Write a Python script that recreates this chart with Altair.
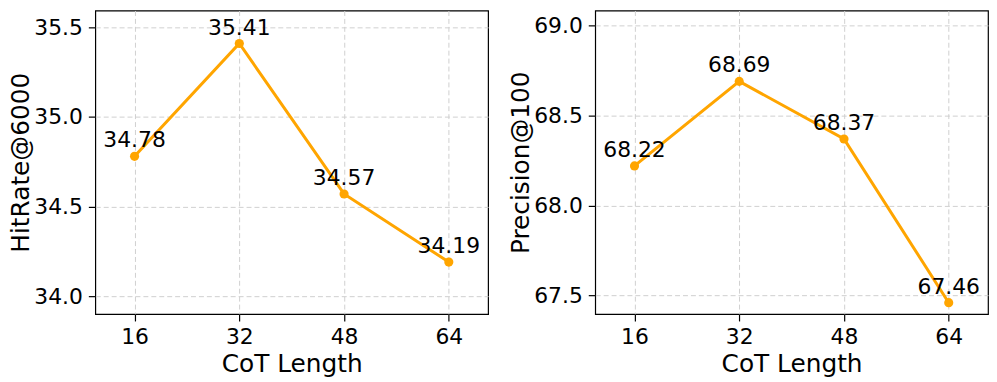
import altair as alt
import pandas as pd

cot_length = [16, 32, 48, 64]
hitrate = [34.78, 35.41, 34.57, 34.19]
precision = [68.22, 68.69, 68.37, 67.46]

x_ticks = [16, 32, 48, 64]
hit_ticks = [34.0, 34.5, 35.0, 35.5]
prec_ticks = [67.5, 68.0, 68.5, 69.0]

FONT = "DejaVu Sans"
ORANGE = "#FFA500"


def panel(values, ytitle, ydomain, yticks):
    df = pd.DataFrame({"x": cot_length, "y": values})
    base = alt.Chart(df)
    xenc = alt.X(
        "x:Q",
        scale=alt.Scale(domain=[10, 70], nice=False, zero=False),
        axis=alt.Axis(values=x_ticks, title="CoT Length", format="d"),
    )
    yenc = alt.Y(
        "y:Q",
        scale=alt.Scale(domain=ydomain, nice=False, zero=False),
        axis=alt.Axis(values=yticks, title=ytitle, format=".1f"),
    )
    line = base.mark_line(color=ORANGE, strokeWidth=3).encode(x=xenc, y=yenc)
    pts = base.mark_circle(color=ORANGE, size=85, opacity=1).encode(x=xenc, y=yenc)
    txt = base.mark_text(
        font=FONT, fontSize=22, color="black", dy=-9, baseline="alphabetic", align="center"
    ).encode(x=xenc, y=yenc, text=alt.Text("y:Q", format=".2f"))
    return alt.layer(line, pts, txt).properties(width=396, height=306)


left = panel(hitrate, "HitRate@6000", [33.90, 35.594], hit_ticks)
right = panel(precision, "Precision@100", [67.397, 69.084], prec_ticks)

chart = (
    alt.hconcat(left, right, spacing=19)
    .properties(padding={"left": 0, "top": 0, "right": 0, "bottom": 0})
    .configure_view(stroke="black", strokeWidth=1.2)
    .configure_axis(
        labelFont=FONT,
        titleFont=FONT,
        labelFontSize=22,
        titleFontSize=25,
        titleFontWeight="normal",
        labelColor="black",
        titleColor="black",
        domain=False,
        tickColor="black",
        tickWidth=1.2,
        tickSize=7,
        labelPadding=6,
        grid=True,
        gridColor="#cfcfcf",
        gridDash=[5, 3],
        gridWidth=1,
    )
    .configure_axisY(titlePadding=0)
    .configure_axisX(titlePadding=4)
)

chart.save("out.html", embed_options={"renderer": "svg", "actions": False})
